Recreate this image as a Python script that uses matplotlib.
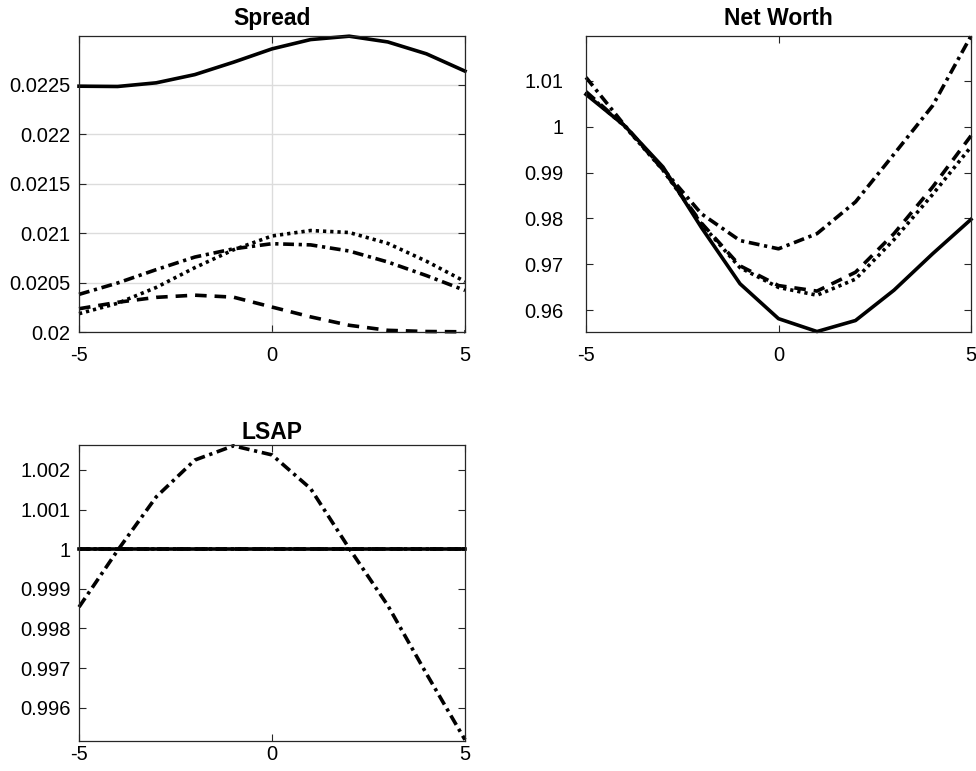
import matplotlib
matplotlib.use("Agg")
import matplotlib.pyplot as plt
from matplotlib.ticker import FuncFormatter

plt.rcParams['font.family'] = ['Liberation Sans', 'DejaVu Sans']

horizon = [-5, -4, -3, -2, -1, 0, 1, 2, 3, 4, 5]

# Spread
spread_solid = [0.022483, 0.02248, 0.022517, 0.0226, 0.022725, 0.02286, 0.022954, 0.022988, 0.02293, 0.02281, 0.022635]
spread_dashdot = [0.02038, 0.020495, 0.02063, 0.020757, 0.02084, 0.020892, 0.02088, 0.020818, 0.020707, 0.02057, 0.02042]
spread_dotted = [0.020185, 0.02029, 0.02045, 0.02065, 0.02083, 0.02097, 0.021025, 0.021005, 0.020895, 0.020715, 0.02051]
spread_dashed = [0.020235, 0.0203, 0.02035, 0.020372, 0.020352, 0.020252, 0.020153, 0.020068, 0.020017, 0.020005, 0.020002]

# Net Worth
nw_solid = [1.0070, 1.0002, 0.9912, 0.9780, 0.9658, 0.9582, 0.9554, 0.9578, 0.9644, 0.9723, 0.9798]
nw_dashdot = [1.0107, 1.0003, 0.9908, 0.9810, 0.9752, 0.9734, 0.9767, 0.9836, 0.9940, 1.0045, 1.0197]
nw_dashed = [1.0076, 1.0002, 0.9906, 0.9790, 0.9697, 0.9654, 0.9642, 0.9683, 0.9767, 0.9868, 0.9980]
nw_dotted = [1.0073, 1.0001, 0.9905, 0.9788, 0.9693, 0.9650, 0.9633, 0.9668, 0.9754, 0.9852, 0.9956]

# LSAP
lsap_solid = [1.0] * 11
lsap_dashed = [1.0] * 11
lsap_dotted = [1.0] * 11
lsap_dashdot = [0.99854, 0.99997, 1.00132, 1.00225, 1.00261, 1.00238, 1.00153, 1.00002, 0.99858, 0.99686, 0.99519]

titles = ["Spread", "Net Worth", "LSAP"]
spread_ticks = [0.02, 0.0205, 0.021, 0.0215, 0.022, 0.0225]
nw_ticks = [0.96, 0.97, 0.98, 0.99, 1.0, 1.01]
lsap_ticks = [0.996, 0.997, 0.998, 0.999, 1.0, 1.001, 1.002]
x_ticks = [-5, 0, 5]

W, H = 976, 771
fig = plt.figure(figsize=(W / 100, H / 100), dpi=100)

def box(l, t, r, b):
    return [l / W, 1 - b / H, (r - l) / W, (b - t) / H]

ax1 = fig.add_axes(box(79, 36, 465, 332))
ax2 = fig.add_axes(box(586, 36, 971, 332))
ax3 = fig.add_axes(box(79, 445, 465, 741))

LW = 2.6
styles = {
    'solid': dict(linestyle='-', color='black', lw=LW),
    'dashed': dict(linestyle=(0, (3.2, 2.2)), color='black', lw=LW),
    'dotted': dict(linestyle=(0, (0.9, 1.1)), color='black', lw=LW),
    'dashdot': dict(linestyle=(0, (3.0, 1.3, 0.9, 1.3)), color='black', lw=LW),
}

fmt = FuncFormatter(lambda v, p: ('%g' % round(v, 6)))

def style_ax(ax, title, yticks, ylim, grid=False, ypad=6, xpad=10, tpad=8):
    ax.set_xlim(-5, 5)
    ax.set_ylim(*ylim)
    ax.set_xticks(x_ticks)
    ax.set_yticks(yticks)
    ax.yaxis.set_major_formatter(fmt)
    ax.xaxis.set_major_formatter(fmt)
    ax.tick_params(direction='in', length=5, width=0.8, labelsize=14.5,
                   top=True, right=True, color='#262626')
    ax.tick_params(axis='x', pad=xpad)
    ax.tick_params(axis='y', pad=ypad)
    for s in ax.spines.values():
        s.set_linewidth(0.9)
        s.set_color('#262626')
    ax.set_title(title, fontsize=16.5, fontweight='bold', pad=tpad)
    if grid:
        ax.grid(True, color='#dcdcdc', lw=1.0)
        ax.set_axisbelow(True)

ax1.plot(horizon, spread_dashed, **styles['dashed'])
ax1.plot(horizon, spread_dotted, **styles['dotted'])
ax1.plot(horizon, spread_dashdot, **styles['dashdot'])
ax1.plot(horizon, spread_solid, **styles['solid'])
style_ax(ax1, titles[0], spread_ticks, (0.02, 0.02299), grid=True, ypad=6)

ax2.plot(horizon, nw_solid, **styles['solid'])
ax2.plot(horizon, nw_dashed, **styles['dashed'])
ax2.plot(horizon, nw_dotted, **styles['dotted'])
ax2.plot(horizon, nw_dashdot, **styles['dashdot'])
style_ax(ax2, titles[1], nw_ticks, (0.9553, 1.0197), ypad=16)

ax3.plot(horizon, lsap_dashdot, **styles['dashdot'])
ax3.plot(horizon, lsap_dashed, **styles['dashed'])
ax3.plot(horizon, lsap_dotted, **styles['dotted'])
ax3.plot(horizon, lsap_solid, **styles['solid'])
style_ax(ax3, titles[2], lsap_ticks, (0.99516, 1.00263), ypad=6, xpad=3, tpad=4)

for ax in (ax1, ax2, ax3):
    for line in ax.get_lines():
        line.set_clip_on(False)

fig.savefig("out.png", dpi=100)
